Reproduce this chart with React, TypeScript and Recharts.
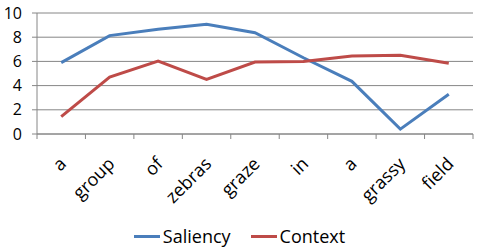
import React from "react"
import { LineChart, XAxis, YAxis, CartesianGrid, Line, Legend } from "recharts"

const words = ["a", "group", "of", "zebras", "graze", "in", "a", "grassy", "field"]
const saliency = [5.9, 8.13, 8.65, 9.06, 8.37, 6.3, 4.35, 0.4, 3.28]
const context = [1.43, 4.7, 6.03, 4.52, 5.95, 6.0, 6.45, 6.5, 5.84]
const yTicks = [0, 2, 4, 6, 8, 10]
const seriesNames = ["Saliency", "Context"]
const seriesColors = ["#4A7EBB", "#BE4B48"]

const data = words.map((w, i) => ({ pos: i + 0.5, word: w, Saliency: saliency[i], Context: context[i] }))
const centerTicks = words.map((_, i) => i + 0.5)
const edgeTicks = words.map((_, i) => i).concat([words.length])

const font = "'Open Sans', sans-serif"

function WordTick(props: any) {
    const { x, y, payload } = props
    const idx = Math.round(payload.value - 0.5)
    return (
        <g transform={`translate(${x + 6},${y + 22})`}>
            <text transform="rotate(-45)" textAnchor="end" fontSize={18} fontFamily={font} fill="#000">
                {words[idx]}
            </text>
        </g>
    )
}

function LegendBox() {
    return (
        <div style={{ display: "flex", justifyContent: "center", alignItems: "center", fontFamily: font, fontSize: 18, color: "#000", height: 24, marginLeft: 6 }}>
            {seriesNames.map((n, i) => (
                <span key={n} style={{ display: "flex", alignItems: "center", marginRight: i === 0 ? 20 : 0 }}>
                    <span style={{ display: "inline-block", width: 26, height: 3, background: seriesColors[i], marginRight: 3 }} />
                    {n}
                </span>
            ))}
        </div>
    )
}

export default function App() {
    return (
        <div style={{ position: "absolute", left: 0, top: 0, background: "#fff" }}>
            <LineChart
                width={480}
                height={250}
                data={data}
                margin={{ top: 13, right: 7, left: 0, bottom: 2 }}
            >
                <CartesianGrid vertical={false} stroke="#868686" strokeWidth={1} />
                <XAxis
                    xAxisId="edges"
                    type="number"
                    dataKey="pos"
                    domain={[0, words.length]}
                    ticks={edgeTicks}
                    tickFormatter={() => ""}
                    height={1}
                    stroke="#868686"
                    tickSize={5}
                    interval={0}
                />
                <XAxis
                    xAxisId="labels"
                    type="number"
                    dataKey="pos"
                    domain={[0, words.length]}
                    ticks={centerTicks}
                    tick={<WordTick />}
                    tickLine={false}
                    axisLine={false}
                    height={89}
                    interval={0}
                />
                <YAxis
                    domain={[0, 10]}
                    ticks={yTicks}
                    interval={0}
                    width={37}
                    stroke="#868686"
                    tickSize={5}
                    tickMargin={10}
                    tick={{ fill: "#000", fontSize: 16, fontFamily: font }}
                />
                <Legend verticalAlign="bottom" height={24} content={<LegendBox />} />
                <Line xAxisId="edges" type="linear" dataKey="Saliency" stroke={seriesColors[0]} strokeWidth={3} dot={false} isAnimationActive={false} />
                <Line xAxisId="edges" type="linear" dataKey="Context" stroke={seriesColors[1]} strokeWidth={3} dot={false} isAnimationActive={false} />
            </LineChart>
        </div>
    )
}
